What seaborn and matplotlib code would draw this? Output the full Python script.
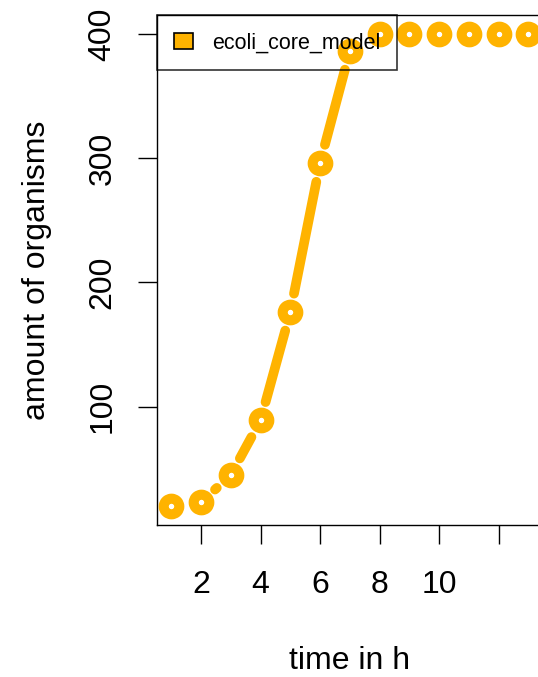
import numpy as np
import pandas as pd
import matplotlib
matplotlib.use('Agg')
import matplotlib.pyplot as plt
import seaborn as sns
from matplotlib.patches import Patch

# growth curve
hours = [1, 2, 3, 4, 5, 6, 7, 8, 9, 10, 11, 12, 13]
organisms = [20, 23, 45, 89, 176, 296, 386, 400, 400, 400, 400, 400, 400]
model_name = 'ecoli_core_model'
xtick_vals = [2, 4, 6, 8, 10, 12]
xtick_labels = ['2', '4', '6', '8', '10', '']
ytick_vals = [100, 200, 300, 400]

color = '#FFB300'

sns.set_style('white')
plt.rcParams['font.family'] = ['Liberation Sans', 'DejaVu Sans']
plt.rcParams['text.color'] = 'black'
plt.rcParams['axes.labelcolor'] = 'black'

fig = plt.figure(figsize=(5.38, 6.77), dpi=100)
ax = fig.add_axes([0.2918, 0.2245, 0.7167, 0.7533])

# R style limits: 4% padding on each side
xr = max(hours) - min(hours)
yr = max(organisms) - min(organisms)
ax.set_xlim(min(hours) - 0.04 * xr, max(hours) + 0.04 * xr)
ax.set_ylim(min(organisms) - 0.04 * yr, max(organisms) + 0.04 * yr)

# type="b" lines: segments shortened so they stop before each point
gap = 19.0  # pixels
pts = ax.transData.transform(np.column_stack([hours, organisms]))
inv = ax.transData.inverted()
rows = []
for i in range(len(pts) - 1):
    p0, p1 = pts[i], pts[i + 1]
    d = np.hypot(*(p1 - p0))
    f = gap / d
    if f < 0.5:
        a = inv.transform(p0 + f * (p1 - p0))
        b = inv.transform(p1 - f * (p1 - p0))
        rows.append({'seg': i, 'x': a[0], 'y': a[1]})
        rows.append({'seg': i, 'x': b[0], 'y': b[1]})
seg_df = pd.DataFrame(rows)
sns.lineplot(data=seg_df, x='x', y='y', units='seg', estimator=None, sort=False,
             color=color, lw=7, solid_capstyle='round', ax=ax, legend=False)

pt_df = pd.DataFrame({'hours': hours, 'organisms': organisms})
sns.scatterplot(data=pt_df, x='hours', y='organisms', marker='o', s=128,
                facecolor='white', edgecolor=color, linewidth=7.2, ax=ax,
                zorder=3, legend=False)

ax.set_xticks(xtick_vals)
ax.set_xticklabels(xtick_labels)
ax.set_yticks(ytick_vals)
ax.tick_params(axis='both', direction='out', length=13.5, width=1.0,
               labelsize=23, colors='black', labelcolor='black',
               bottom=True, left=True)
ax.tick_params(axis='x', pad=19)
ax.tick_params(axis='y', pad=15)
for lab in ax.get_yticklabels():
    lab.set_rotation(90)
    lab.set_va('center')

for s in ax.spines.values():
    s.set_color('black')
    s.set_linewidth(1.0)

ax.set_xlabel('time in h', fontsize=23)
ax.set_ylabel('amount of organisms', fontsize=23)
ax.xaxis.set_label_coords(0.5, -0.238)
ax.yaxis.set_label_coords(-0.272, 0.5)

handle = Patch(facecolor=color, edgecolor='black', linewidth=1.2)
leg = ax.legend([handle], [model_name], loc='upper left', bbox_to_anchor=(0, 1),
                borderaxespad=0, fontsize=15.5, frameon=True, fancybox=False,
                handlelength=0.85, handleheight=0.75, handletextpad=0.9,
                borderpad=0.8)
leg.get_frame().set_facecolor('none')
leg.get_frame().set_edgecolor('black')
leg.get_frame().set_linewidth(1.2)
leg.set_zorder(5)

fig.savefig('out.png', dpi=100)
